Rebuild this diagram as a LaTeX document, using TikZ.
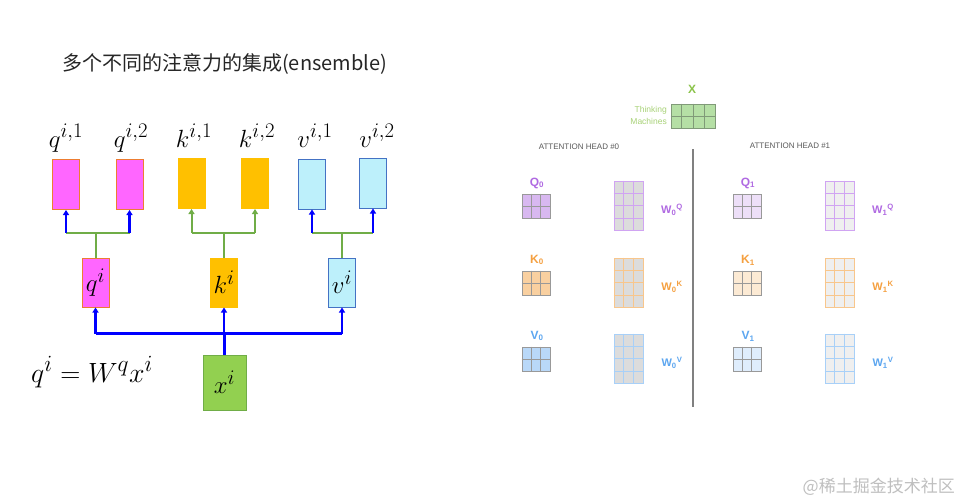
\documentclass[tikz,border=0pt]{standalone}
\usepackage{fontspec}
\newfontfamily\cjkfont{Noto Sans CJK SC}
\newfontfamily\headfont{Liberation Sans}
\usetikzlibrary{arrows.meta,calc}

% Colours of the left diagram
\definecolor{qpink}{HTML}{FF66FF}
\definecolor{qedge}{HTML}{ED7D31}
\definecolor{kgold}{HTML}{FFC000}
\definecolor{vcyan}{HTML}{BDF0FB}
\definecolor{vedge}{HTML}{4472C4}
\definecolor{xgreen}{HTML}{92D050}
\definecolor{xedge}{HTML}{70AD47}
\definecolor{linkgreen}{HTML}{70AD47}
\definecolor{linkblue}{HTML}{0000FF}

% Colours of the attention heads
\definecolor{fillQ}{HTML}{D8B8F0}
\definecolor{fillK}{HTML}{F9D0A0}
\definecolor{fillV}{HTML}{B9D8F8}
\definecolor{fillW}{HTML}{DCDCDC}
\definecolor{lineQ}{HTML}{D0A4F2}
\definecolor{lineK}{HTML}{F8C68C}
\definecolor{lineV}{HTML}{A8D0F8}
\definecolor{textQ}{HTML}{B06AE2}
\definecolor{textK}{HTML}{F5A040}
\definecolor{textV}{HTML}{5CA6F0}
\definecolor{fillX}{HTML}{B5DFA5}
\definecolor{lineX}{HTML}{809A78}
\definecolor{textX}{HTML}{8BC34A}

\begin{document}
\begin{tikzpicture}[x=1pt, y=-1pt,
    vec/.style={draw, line width=1pt, inner sep=0pt, minimum width=27pt},
    topvec/.style={vec, minimum height=50pt},
    midvec/.style={vec, minimum height=49pt, font=\Huge},
    mlbl/.style={font=\Huge, inner sep=0pt},
    greenline/.style={draw=linkgreen, line width=2pt},
    greenarrow/.style={greenline, -{Triangle[width=6pt,length=5pt]}},
    blueline/.style={draw=linkblue, line width=2.4pt},
    bluearrow/.style={blueline, -{Triangle[width=6pt,length=5pt]}},
    mat/.style={draw, line width=0.8pt, inner sep=0pt},
    smallgrid/.style={draw=gray!80, line width=0.8pt},
    headlbl/.style={font=\headfont\fontsize{8}{10}\selectfont, text=black!65, inner sep=0pt},
    namelbl/.style={font=\headfont\bfseries\fontsize{12}{14}\selectfont, inner sep=0pt}]

    % Page
    \path[use as bounding box, fill=white] (0,0) rectangle (962,503);

    % Title
    \node[anchor=west, inner sep=0pt, text=black!85] (title) at (62,64)
        {\cjkfont\fontsize{20}{24}\selectfont 多个不同的注意力的集成(ensemble)};

    % Top vectors
    \node[topvec, fill=qpink, draw=qedge] (qa) at (66,184.5) {};
    \node[topvec, fill=qpink, draw=qedge] (qb) at (129.5,184.5) {};
    \node[topvec, fill=kgold, draw=kgold] (ka) at (191.5,183.5) {};
    \node[topvec, fill=kgold, draw=kgold] (kb) at (255,183.5) {};
    \node[topvec, fill=vcyan, draw=vedge] (va) at (312,184) {};
    \node[topvec, fill=vcyan, draw=vedge] (vb) at (373,183) {};

    % Labels of the top vectors
    \node[mlbl, anchor=base] (lqa) at (66,147) {$q^{i,1}$};
    \node[mlbl, anchor=base] (lqb) at (131,147) {$q^{i,2}$};
    \node[mlbl, anchor=base] (lka) at (194,147) {$k^{i,1}$};
    \node[mlbl, anchor=base] (lkb) at (257,147) {$k^{i,2}$};
    \node[mlbl, anchor=base] (lva) at (315,147) {$v^{i,1}$};
    \node[mlbl, anchor=base] (lvb) at (377,147) {$v^{i,2}$};

    % Middle vectors
    \node[midvec, fill=qpink, draw=qedge] (q) at (95.5,282.5) {$q^i$};
    \node[midvec, fill=kgold, draw=kgold] (k) at (224,282.5) {$k^i$};
    \node[midvec, fill=vcyan, draw=vedge] (v) at (342,282.5) {$v^i$};

    % Input vector
    \node[vec, fill=xgreen, draw=xedge, minimum width=43pt, minimum height=55pt, font=\Huge] (x) at (224.5,382.5)
        {$x^i$};

    % Equation
    \node[mlbl, anchor=base west] (eq) at (31,382) {\scalebox{1.12}{$q^i = W^q x^i$}};

    % Bus from the input
    \coordinate (bq) at ($(q.south)+(0,26)$);
    \coordinate (bk) at ($(k.south)+(0,26)$);
    \coordinate (bv) at ($(v.south)+(0,26)$);
    \draw[blueline] (bq) -- (bv);
    \draw[blueline] (x.north) -- (x.north |- bk);
    \draw[bluearrow] (bq) -- (q.south);
    \draw[bluearrow] (bk) -- (k.south);
    \draw[bluearrow] (bv) -- (v.south);

    % Split of q
    \coordinate (tq) at ($(q.north)+(0,-25)$);
    \draw[greenline] (q.north) -- (tq);
    \draw[greenline] (qa.south |- tq) -- (qb.south |- tq);
    \draw[bluearrow] (qa.south |- tq) -- (qa.south);
    \draw[bluearrow] (qb.south |- tq) -- (qb.south);

    % Split of k
    \coordinate (tk) at ($(k.north)+(0,-25)$);
    \draw[greenline] (k.north) -- (tk);
    \draw[greenline] (ka.south |- tk) -- (kb.south |- tk);
    \draw[greenarrow] (ka.south |- tk) -- (ka.south);
    \draw[greenarrow] (kb.south |- tk) -- (kb.south);

    % Split of v
    \coordinate (tv) at ($(v.north)+(0,-25)$);
    \draw[greenline] (v.north) -- (tv);
    \draw[greenline] (va.south |- tv) -- (vb.south |- tv);
    \draw[bluearrow] (va.south |- tv) -- (va.south);
    \draw[bluearrow] (vb.south |- tv) -- (vb.south);

    % Input words X
    \node[namelbl, text=textX] (Xlbl) at (692,89) {X};
    \node[mat, draw=lineX, fill=fillX, minimum width=44pt, minimum height=24pt] (X) at (693,116) {};
    \foreach \i in {1,2,3}
        \draw[draw=lineX, line width=0.8pt] ($(X.north west)!\i/4!(X.north east)$) -- ($(X.south west)!\i/4!(X.south east)$);
    \draw[draw=lineX, line width=0.8pt] (X.west) -- (X.east);
    \node[anchor=east, align=right, inner sep=0pt, text=textX!75, font=\headfont\fontsize{8.5}{12}\selectfont]
        (words) at (667,115) {Thinking\\Machines};

    % Head titles and divider
    \node[headlbl] (h0) at (579,147) {ATTENTION HEAD \#0};
    \node[headlbl] (h1) at (790,146) {ATTENTION HEAD \#1};
    \coordinate (dtop) at (693,149);
    \coordinate (dbot) at (693,407);
    \draw[draw=black!50, line width=1.6pt] (dtop) -- (dbot);

    % Matrices of both heads
    \foreach \h/\hx/\tint in {0/0/100, 1/211/45} {
        \foreach \m/\yy in {Q/0, K/77, V/153} {
            % result
            \node[mat, draw=gray!80, fill=fill\m!\tint!white, minimum width=28pt, minimum height=24pt]
                (s\m\h) at (536+\hx, 206+\yy) {};
            \foreach \i in {1,2}
                \draw[smallgrid] ($(s\m\h.north west)!\i/3!(s\m\h.north east)$) -- ($(s\m\h.south west)!\i/3!(s\m\h.south east)$);
            \draw[smallgrid] (s\m\h.west) -- (s\m\h.east);
            \node[namelbl, text=text\m] (n\m\h) at (537+\hx, 183+\yy) {\m\textsubscript{\h}};
            % weights
            \node[mat, draw=line\m, fill=fillW!\tint!white, minimum width=29pt, minimum height=49pt]
                (w\m\h) at (628.5+\hx, 205.5+\yy) {};
            \foreach \i in {1,2}
                \draw[draw=line\m, line width=0.8pt] ($(w\m\h.north west)!\i/3!(w\m\h.north east)$) -- ($(w\m\h.south west)!\i/3!(w\m\h.south east)$);
            \foreach \j in {1,2,3}
                \draw[draw=line\m, line width=0.8pt] ($(w\m\h.north west)!\j/4!(w\m\h.south west)$) -- ($(w\m\h.north east)!\j/4!(w\m\h.south east)$);
            \node[namelbl, font=\headfont\bfseries\fontsize{11}{13}\selectfont, text=text\m] (nw\m\h) at (672+\hx, 210+\yy)
                {W\textsubscript{\h}\textsuperscript{\m}};
        }
    }

    % Watermark
    \node[anchor=east, inner sep=0pt, text=black!25] (mark) at (955,487)
        {\cjkfont\fontsize{17}{20}\selectfont @稀土掘金技术社区};
\end{tikzpicture}
\end{document}
